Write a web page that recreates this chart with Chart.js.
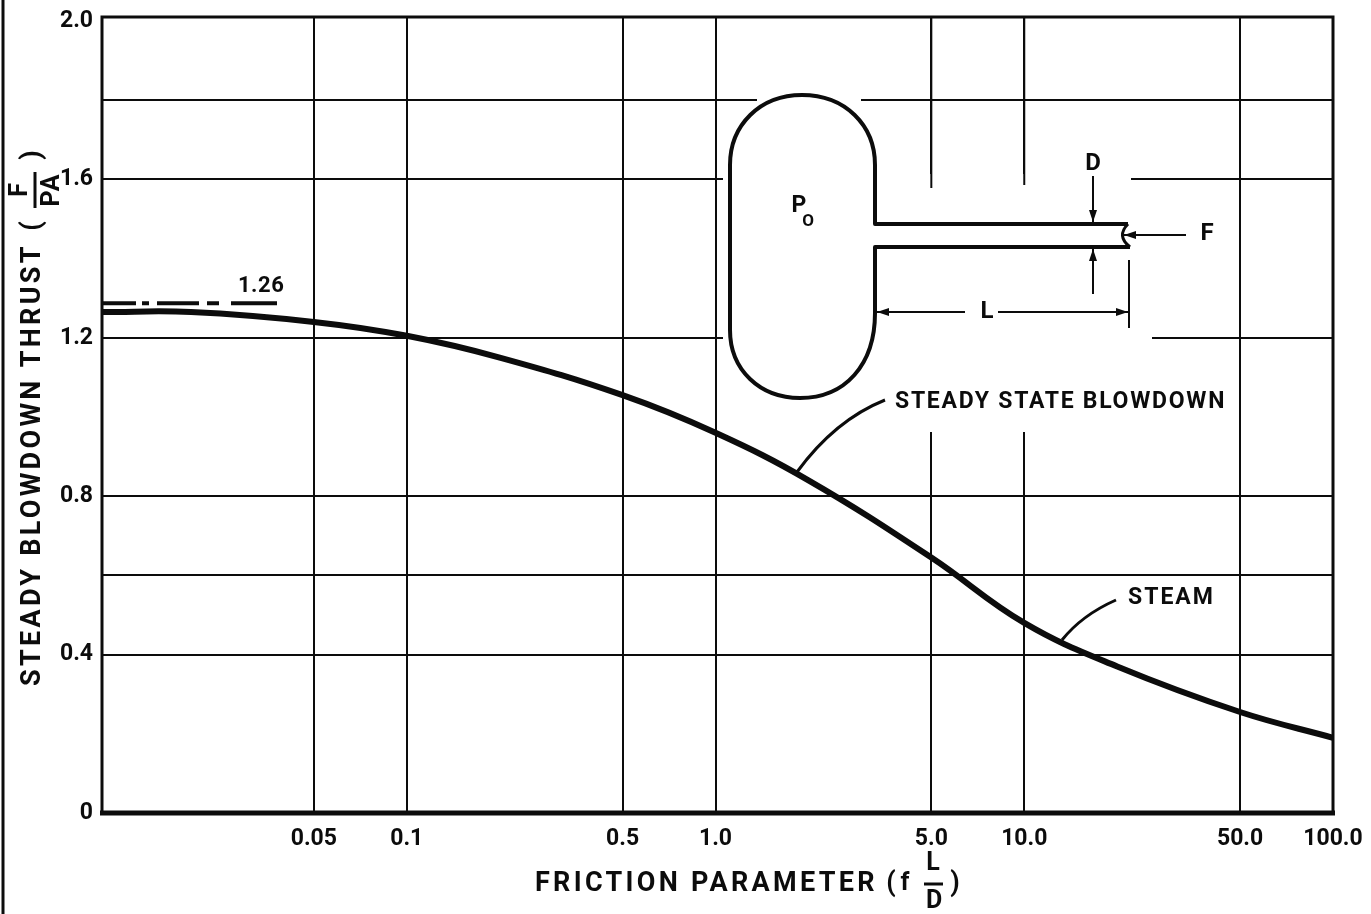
<!DOCTYPE html>
<html>
<head>
<meta charset="utf-8">
<style>html,body{margin:0;padding:0;background:#fff}canvas{display:block}</style>
<script src="https://cdn.jsdelivr.net/npm/chart.js@4/dist/chart.umd.min.js"></script>
</head>
<body>
<canvas id="c" width="1371" height="914"></canvas>
<script>
const frictionParameter = [0.0103,0.02,0.05,0.1,0.2,0.5,1,2,5,10,20,50,100];
const steadyThrust = [1.265,1.265,1.24,1.205,1.15,1.055,0.96,0.84,0.645,0.48,0.37,0.255,0.19];
const limitFriction = [0.0103,0.0382];
const limitThrust = [1.287,1.287];
const xTickValues = [0.05,0.1,0.5,1,5,10,50,100];
const xTickLabels = ['0.05','0.1','0.5','1.0','5.0','10.0','50.0','100.0'];
const yTickValues = [0,0.4,0.6,0.8,1.2,1.6,1.8,2.0];
const yTickLabels = ['0','0.4','','0.8','1.2','1.6','','2.0'];

const INK = '#0c0c0c';
const FONT = 'Roboto, "Liberation Sans", sans-serif';

function label(ctx, s, x, y, size, spacing, align, rot) {
  ctx.save();
  ctx.translate(x, y);
  if (rot) ctx.rotate(rot);
  ctx.font = '700 ' + size + 'px ' + FONT;
  ctx.letterSpacing = (spacing || 0) + 'px';
  ctx.textAlign = align || 'left';
  ctx.textBaseline = 'middle';
  ctx.fillStyle = INK;
  ctx.fillText(s, 0, rot ? 0 : 2);
  ctx.restore();
}
function seg(ctx, x1, y1, x2, y2, w) {
  ctx.lineWidth = w; ctx.beginPath(); ctx.moveTo(x1, y1); ctx.lineTo(x2, y2); ctx.stroke();
}
function arrow(ctx, x1, y1, x2, y2) {
  seg(ctx, x1, y1, x2, y2, 2);
  const a = Math.atan2(y2 - y1, x2 - x1), l = 12, h = 4;
  ctx.beginPath();
  ctx.moveTo(x2, y2);
  ctx.lineTo(x2 - l * Math.cos(a) + h * Math.sin(a), y2 - l * Math.sin(a) - h * Math.cos(a));
  ctx.lineTo(x2 - l * Math.cos(a) - h * Math.sin(a), y2 - l * Math.sin(a) + h * Math.cos(a));
  ctx.closePath(); ctx.fill();
}

const drawing = {
  id: 'drawing',
  beforeDatasetsDraw(chart) {
    const ctx = chart.ctx, a = chart.chartArea, xs = chart.scales.x;
    ctx.save();
    ctx.fillStyle = '#fff';
    ctx.fillRect(757, 95, 104, 10);
    ctx.fillRect(723, 174, 408, 10);
    ctx.fillRect(723, 333, 429, 10);
    ctx.fillRect(925, 184, 110, 248);
    // the two verticals run down past the broken 1.6 line before they stop
    ctx.strokeStyle = INK;
    seg(ctx, xs.getPixelForValue(5), a.top, xs.getPixelForValue(5), 188, 2);
    seg(ctx, xs.getPixelForValue(10), a.top, xs.getPixelForValue(10), 185, 2);
    ctx.restore();
  },
  afterDatasetsDraw(chart) {
    const ctx = chart.ctx, a = chart.chartArea;
    ctx.save();
    ctx.strokeStyle = INK; ctx.fillStyle = INK; ctx.lineCap = 'butt';

    // frame and page edge
    ctx.lineWidth = 3;
    ctx.strokeRect(a.left, a.top, a.right - a.left, a.bottom - a.top);
    seg(ctx, a.left - 2, a.bottom, a.right + 2, a.bottom, 5);
    seg(ctx, 3, 0, 3, 914, 3);

    // tank and pipe
    ctx.lineWidth = 4; ctx.lineJoin = 'round';
    ctx.beginPath();
    ctx.moveTo(1128, 224); ctx.lineTo(875, 224); ctx.lineTo(875, 165);
    ctx.bezierCurveTo(875, 125, 845, 95, 802, 95);
    ctx.bezierCurveTo(760, 95, 730, 125, 730, 165);
    ctx.lineTo(730, 330);
    ctx.bezierCurveTo(730, 370, 760, 398, 800, 398);
    ctx.bezierCurveTo(845, 398, 875, 365, 875, 313);
    ctx.lineTo(875, 247); ctx.lineTo(1130, 247);
    ctx.stroke();
    ctx.lineWidth = 3;
    ctx.beginPath(); ctx.moveTo(1128, 224); ctx.quadraticCurveTo(1116, 236, 1130, 247); ctx.stroke();

    // dimensions
    arrow(ctx, 1093, 176, 1093, 222);
    arrow(ctx, 1093, 294, 1093, 249);
    arrow(ctx, 1186, 235, 1124, 235);
    arrow(ctx, 965, 312, 877, 312);
    arrow(ctx, 998, 312, 1128, 312);
    seg(ctx, 1129, 260, 1129, 328, 2);

    // leaders
    ctx.lineWidth = 3;
    ctx.beginPath(); ctx.moveTo(885, 400); ctx.quadraticCurveTo(835, 420, 797, 472); ctx.stroke();
    ctx.beginPath(); ctx.moveTo(1116, 600); ctx.quadraticCurveTo(1082, 615, 1062, 640); ctx.stroke();

    // inset texts
    label(ctx, 'D', 1093, 162, 24, 0, 'center');
    label(ctx, 'F', 1207, 232, 24, 0, 'center');
    label(ctx, 'L', 987, 310, 24, 0, 'center');
    label(ctx, 'P', 799, 204, 23, 0, 'center');
    label(ctx, 'O', 808, 220, 17, 0, 'center');
    label(ctx, 'STEADY STATE BLOWDOWN', 895, 400, 23, 1.72, 'left');
    label(ctx, 'STEAM', 1128, 596, 23, 2, 'left');
    label(ctx, '1.26', 238, 284, 22, 0.5, 'left');

    // y axis title
    const up = -Math.PI / 2;
    label(ctx, 'STEADY BLOWDOWN THRUST', 33, 686, 27, 3.3, 'left', up);
    label(ctx, '(', 33, 226, 27, 0, 'center', up);
    label(ctx, 'F', 21, 190, 25, 0, 'center', up);
    seg(ctx, 35, 172, 35, 208, 3);
    label(ctx, 'PA', 53, 190, 25, 1, 'center', up);
    label(ctx, ')', 33, 155, 27, 0, 'center', up);

    // x axis title
    label(ctx, 'FRICTION PARAMETER', 535, 882, 27, 3.3, 'left');
    label(ctx, '(', 891, 882, 27, 0, 'center');
    label(ctx, 'f', 905, 882, 25, 0, 'center');
    label(ctx, 'L', 933, 862, 25, 0, 'center');
    seg(ctx, 924, 884, 943, 884, 3);
    label(ctx, 'D', 934, 900, 25, 0, 'center');
    label(ctx, ')', 955, 882, 27, 0, 'center');
    ctx.restore();
  }
};

function pairs(xs, ys) { return xs.map((x, i) => ({ x: x, y: ys[i] })); }

new Chart(document.getElementById('c'), {
  type: 'line',
  data: {
    datasets: [
      { label: 'Steam', data: pairs(frictionParameter, steadyThrust), borderColor: INK, borderWidth: 6,
        pointRadius: 0, tension: 0.4, fill: false },
      { label: 'Limit 1.26', data: pairs(limitFriction, limitThrust), borderColor: INK, borderWidth: 4,
        borderDash: [34, 6, 7, 8, 42, 8, 12, 12, 46, 4], pointRadius: 0, fill: false }
    ]
  },
  options: {
    responsive: false,
    animation: false,
    layout: { padding: { top: 17, right: 38, left: 0, bottom: 0 } },
    plugins: { legend: { display: false }, tooltip: { enabled: false } },
    scales: {
      x: {
        type: 'logarithmic', min: 0.0103, max: 100,
        afterBuildTicks(s) { s.ticks = xTickValues.map(v => ({ value: v })); },
        afterFit(s) { s.height = 101; s.paddingLeft = 0; s.paddingRight = 0; },
        grid: { color: INK, lineWidth: 2, drawTicks: false },
        border: { display: false },
        ticks: {
          autoSkip: false, maxRotation: 0, minRotation: 0, padding: 12, color: INK,
          font: { family: FONT, size: 23, weight: '700' },
          callback(v) { const i = xTickValues.indexOf(v); return i < 0 ? '' : xTickLabels[i]; }
        }
      },
      y: {
        type: 'linear', min: 0, max: 2.01,
        afterBuildTicks(s) { s.ticks = yTickValues.map(v => ({ value: v })); },
        afterFit(s) { s.width = 102; s.paddingTop = 0; s.paddingBottom = 0; },
        grid: { color: c => c.tick && c.tick.value === 2 ? 'rgba(0,0,0,0)' : INK, lineWidth: 2, drawTicks: false },
        border: { display: false },
        ticks: {
          padding: 9, color: INK,
          font: { family: FONT, size: 23, weight: '700' },
          callback(v) { const i = yTickValues.indexOf(v); return i < 0 ? '' : yTickLabels[i]; }
        }
      }
    }
  },
  plugins: [drawing]
});
</script>
</body>
</html>
